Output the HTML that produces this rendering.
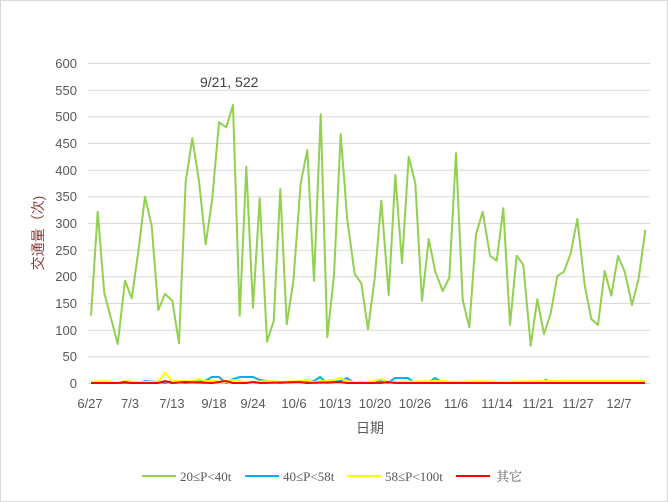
<!DOCTYPE html>
<html><head><meta charset="utf-8"><style>
body{margin:0;background:#fff}
svg{display:block;font-family:"Liberation Sans","Noto Sans CJK SC",sans-serif}
</style></head><body>
<svg width="668" height="502" viewBox="0 0 668 502">
<rect x="0.5" y="0.5" width="667" height="501" fill="#fff" stroke="#d9d9d9"/>
<g stroke="#d9d9d9" stroke-width="1">
<line x1="88" x2="650" y1="63.5" y2="63.5"/><line x1="88" x2="650" y1="90.2" y2="90.2"/>
<line x1="88" x2="650" y1="116.8" y2="116.8"/><line x1="88" x2="650" y1="143.5" y2="143.5"/>
<line x1="88" x2="650" y1="170.2" y2="170.2"/><line x1="88" x2="650" y1="196.8" y2="196.8"/>
<line x1="88" x2="650" y1="223.5" y2="223.5"/><line x1="88" x2="650" y1="250.2" y2="250.2"/>
<line x1="88" x2="650" y1="276.8" y2="276.8"/><line x1="88" x2="650" y1="303.5" y2="303.5"/>
<line x1="88" x2="650" y1="330.2" y2="330.2"/><line x1="88" x2="650" y1="356.8" y2="356.8"/>
<line x1="88" x2="650" y1="383.5" y2="383.5"/>
</g>
<g fill="#595959" font-size="13" text-anchor="end">
<text x="77" y="68">600</text><text x="77" y="95">550</text><text x="77" y="121">500</text>
<text x="77" y="148">450</text><text x="77" y="175">400</text><text x="77" y="201">350</text>
<text x="77" y="228">300</text><text x="77" y="255">250</text><text x="77" y="281">200</text>
<text x="77" y="308">150</text><text x="77" y="335">100</text><text x="77" y="361">50</text>
<text x="77" y="388">0</text>
</g>
<g fill="#595959" font-size="13" text-anchor="middle">
<text x="90" y="408">6/27</text><text x="130" y="408">7/3</text><text x="172" y="408">7/13</text>
<text x="214" y="408">9/18</text><text x="253" y="408">9/24</text><text x="294" y="408">10/6</text>
<text x="335" y="408">10/13</text><text x="375" y="408">10/20</text><text x="415" y="408">10/26</text>
<text x="456" y="408">11/6</text><text x="497" y="408">11/14</text><text x="538" y="408">11/21</text>
<text x="578" y="408">11/27</text><text x="619" y="408">12/7</text>
</g>
<text x="370" y="433" font-size="14" fill="#595959" text-anchor="middle">日期</text>
<text transform="translate(43,233) rotate(-90)" font-size="14" fill="#8b3a3a" text-anchor="middle">交通量（次)</text>
<text x="200" y="87" font-size="14" fill="#404040">9/21, 522</text>
<polyline fill="none" stroke="#92d050" stroke-width="2" stroke-linejoin="round" points="91,315.7 97.7,211.7 104.3,293.3 111,318.3 117.7,344 125,280.7 131.7,298.3 138.3,251.7 145,196.7 151.7,226 158.3,310 165,294 172.3,300.7 179,343.3 185.7,181.7 192.3,138.3 199,181 205.7,244.3 212.3,198.3 219,122.3 226.3,127.3 233,105 239.7,315.7 246.3,166.7 253,307.7 259.7,198.3 267,341.7 273.7,321 280.3,189 286.7,324.3 293.3,281.7 300.7,183.3 307.3,150 314,280.7 320.7,114.3 327.3,337.3 334,275 340.7,134.3 347.3,220 354.7,274 361.3,283.3 368,329.3 374.7,278.3 381.3,200.7 388.7,295 395.3,175 402,263.3 408.7,156.7 415.3,183.3 422,301 428.7,239 435.3,271.7 442.7,291 449.3,277.7 456,153.3 462.7,300 469.3,327.3 476,234.3 482.7,211.7 490,255.7 496.7,260.7 503.3,208.3 510,325 516.7,255.7 523.3,265 530.7,345.7 537.3,299.3 544,334 550.7,313.3 557.3,276 564,271.7 570.7,253.3 577.3,219 584.7,285 591.3,319 598,325 604.7,271 611.3,295.7 618,256 624.7,271.7 632,305 638.7,278.3 645.3,230"/>
<polyline fill="none" stroke="#00b0f0" stroke-width="2" points="91,383 138,383 145,381 158,382 165,383 172,381 185,383 205,381 212,377 219,377 226,383 233,379 240,377 253,377 260,380 280,383 300,381 314,381 320,377 327,383 340,381 347,378 354,383 380,381 388,383 395,378 408,378 415,383 428,383 435,378 442,382 540,383 546,380 552,383 620,382 632,381 645,382"/>
<polyline fill="none" stroke="#ffff00" stroke-width="2" points="91,382 105,381 118,383 125,381 138,382 158,382 165,373 172,381 192,381 199,379 205,381 212,381 226,382 233,380 246,382 273,381 280,382 300,381 307,380 314,382 334,380 340,378 347,381 360,383 374,381 381,379 388,382 440,381 460,382 480,381 500,382 540,381 570,381 590,381 620,381 645,381"/>
<polyline fill="none" stroke="#ff0000" stroke-width="2" points="91,383 118,383 125,382 131,383 158,383 165,381 172,383 185,382 212,383 226,381 233,383 246,383 253,382 260,383 300,382 307,383 340,382 347,383 380,383 388,382 395,383 645,383"/>
<g font-size="13" fill="#595959" font-family="Liberation Serif, Noto Serif CJK SC, serif">
<line x1="142" x2="176" y1="476" y2="476" stroke="#92d050" stroke-width="2"/><text x="180" y="481">20≤P&lt;40t</text>
<line x1="245" x2="279" y1="476" y2="476" stroke="#00b0f0" stroke-width="2"/><text x="283" y="481">40≤P&lt;58t</text>
<line x1="347" x2="381" y1="476" y2="476" stroke="#ffff00" stroke-width="2"/><text x="385" y="481">58≤P&lt;100t</text>
<line x1="456" x2="490" y1="476" y2="476" stroke="#ff0000" stroke-width="2"/><text x="496" y="481">其它</text>
</g>
</svg>
</body></html>
